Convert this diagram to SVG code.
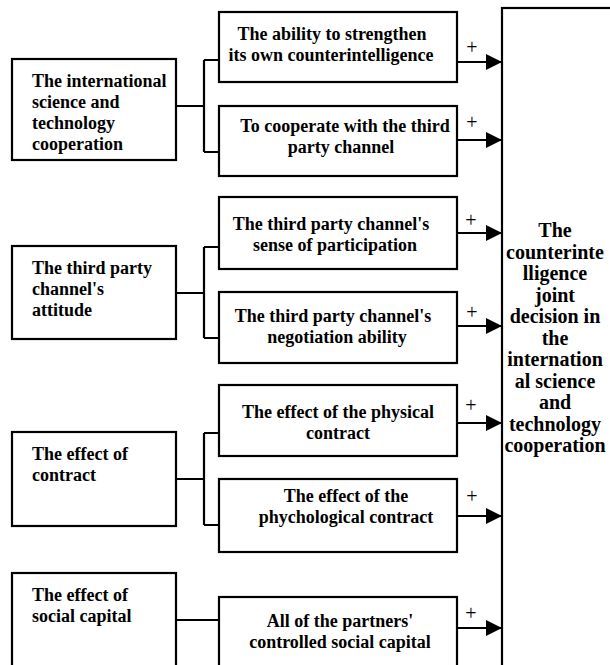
<svg xmlns="http://www.w3.org/2000/svg" width="610" height="665" viewBox="0 0 610 665">
<style>
.box{fill:#fff;stroke:#000;stroke-width:2.2}
.t{font-family:"Liberation Serif","Times New Roman",serif;font-size:18px;font-weight:bold;fill:#000}
.c{text-anchor:middle}
.big{font-family:"Liberation Serif","Times New Roman",serif;font-size:20px;font-weight:bold;fill:#000;text-anchor:middle}
.ln{fill:none;stroke:#000;stroke-width:2.2}
.plus{font-family:"Liberation Serif","Times New Roman",serif;font-size:20px;fill:#000;text-anchor:middle}
</style>
<defs>
<marker id="ah" viewBox="0 0 16 16" refX="16" refY="8" markerWidth="16" markerHeight="16" markerUnits="userSpaceOnUse" orient="auto">
<path d="M0,0 L16,8 L0,16 Z" fill="#000"/>
</marker>
</defs>
<rect width="610" height="665" fill="#fff"/>

<g id="connectors">
<path class="ln" d="M176,106 H204 M204,60 V152 M204,60 H219 M204,152 H219"/>
<path class="ln" d="M176,293 H204 M204,247 V338 M204,247 H219 M204,338 H219"/>
<path class="ln" d="M176,479 H204 M204,433 V525 M204,433 H219 M204,525 H219"/>
<path class="ln" d="M176,620 H219"/>
<g class="ln" marker-end="url(#ah)">
<line x1="457" y1="62" x2="502" y2="62"/>
<line x1="457" y1="140" x2="502" y2="140"/>
<line x1="457" y1="233" x2="502" y2="233"/>
<line x1="457" y1="326" x2="502" y2="326"/>
<line x1="457" y1="423" x2="502" y2="423"/>
<line x1="457" y1="516" x2="502" y2="516"/>
<line x1="457" y1="628" x2="502" y2="628"/>
</g>
<text class="plus" x="472" y="54">+</text>
<text class="plus" x="472" y="129">+</text>
<text class="plus" x="471" y="227">+</text>
<text class="plus" x="472" y="319">+</text>
<text class="plus" x="471" y="412">+</text>
<text class="plus" x="472" y="503">+</text>
<text class="plus" x="471" y="620">+</text>
</g>

<g id="L1">
<rect class="box" x="12" y="59" width="164" height="101"/>
<text class="t" x="32" y="87">The international</text>
<text class="t" x="32" y="108">science and</text>
<text class="t" x="32" y="129">technology</text>
<text class="t" x="32" y="150">cooperation</text>
</g>
<g id="L2">
<rect class="box" x="12" y="246" width="164" height="93"/>
<text class="t" x="32" y="274">The third party</text>
<text class="t" x="32" y="295">channel's</text>
<text class="t" x="32" y="316">attitude</text>
</g>
<g id="L3">
<rect class="box" x="12" y="432" width="164" height="94"/>
<text class="t" x="32" y="460">The effect of</text>
<text class="t" x="32" y="481">contract</text>
</g>
<g id="L4">
<rect class="box" x="12" y="573" width="164" height="110"/>
<text class="t" x="32" y="601">The effect of</text>
<text class="t" x="32" y="622">social capital</text>
</g>

<g id="M1">
<rect class="box" x="219" y="12" width="238" height="70"/>
<text class="t c" x="332" y="40">The ability to strengthen</text>
<text class="t c" x="331" y="61">its own counterintelligence</text>
</g>
<g id="M2">
<rect class="box" x="219" y="106" width="238" height="70"/>
<text class="t c" x="345" y="132">To cooperate with the third</text>
<text class="t c" x="341" y="153">party channel</text>
</g>
<g id="M3">
<rect class="box" x="219" y="197" width="238" height="72"/>
<text class="t c" x="331" y="230">The third party channel's</text>
<text class="t c" x="335" y="251">sense of participation</text>
</g>
<g id="M4">
<rect class="box" x="219" y="292" width="238" height="71"/>
<text class="t c" x="333" y="322">The third party channel's</text>
<text class="t c" x="337" y="343">negotiation ability</text>
</g>
<g id="M5">
<rect class="box" x="219" y="385" width="238" height="71"/>
<text class="t c" x="338" y="418">The effect of the physical</text>
<text class="t c" x="338" y="439">contract</text>
</g>
<g id="M6">
<rect class="box" x="219" y="479" width="238" height="73"/>
<text class="t c" x="346" y="502">The effect of the</text>
<text class="t c" x="346" y="523">phychological contract</text>
</g>
<g id="M7">
<rect class="box" x="219" y="597" width="238" height="90"/>
<text class="t c" x="340" y="627">All of the partners'</text>
<text class="t c" x="340" y="648">controlled social capital</text>
</g>

<g id="R">
<rect class="box" x="502" y="8" width="130" height="700"/>
<text class="big" x="555" y="237">The</text>
<text class="big" x="555" y="258.5">counterinte</text>
<text class="big" x="555" y="280">lligence</text>
<text class="big" x="555" y="301.5">joint</text>
<text class="big" x="555" y="323">decision in</text>
<text class="big" x="555" y="344.5">the</text>
<text class="big" x="555" y="366">internation</text>
<text class="big" x="555" y="387.5">al science</text>
<text class="big" x="555" y="409">and</text>
<text class="big" x="555" y="430.5">technology</text>
<text class="big" x="555" y="452">cooperation</text>
</g>
</svg>
